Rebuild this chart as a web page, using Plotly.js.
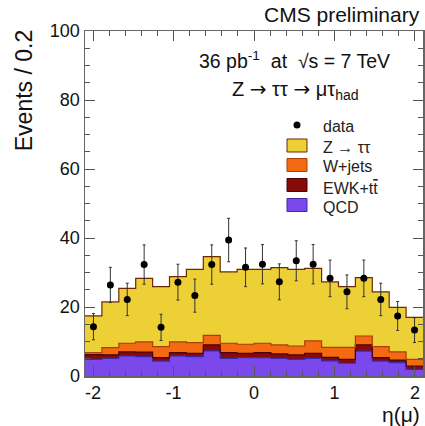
<!DOCTYPE html>
<html>
<head>
<meta charset="utf-8">
<script src="https://cdn.plot.ly/plotly-3.0.1.min.js"></script>
<style>html,body{margin:0;padding:0;background:#fff;}#chart{width:425px;height:426px;}</style>
</head>
<body>
<div id="chart"></div>
<script>
// bin centres of eta(mu), bin width 0.21
const etaCenters = [-1.995, -1.785, -1.575, -1.365, -1.155, -0.945, -0.735, -0.525, -0.315, -0.105,
                    0.105, 0.315, 0.525, 0.735, 0.945, 1.155, 1.365, 1.575, 1.785, 1.995];
const binWidth = 0.21;
const qcd   = [4.8, 5.1, 5.8, 5.6, 4.3, 5.8, 5.6, 7.3, 5.1, 5.3, 5.3, 5.1, 4.8, 5.1, 4.4, 3.7, 7.2, 4.3, 3.9, 1.9];
const ewk   = [1.4, 1.0, 1.2, 1.3, 1.0, 1.0, 1.0, 1.7, 1.7, 1.3, 1.5, 1.3, 1.3, 1.5, 1.0, 1.1, 1.8, 1.0, 0.7, 1.0];
const wjets = [0.6, 2.1, 2.5, 3.0, 3.2, 3.1, 3.1, 2.8, 2.7, 2.6, 2.7, 2.6, 2.6, 3.6, 2.9, 3.5, 2.6, 3.2, 2.4, 1.9];
const ztt   = [10.6, 13.3, 15.9, 18.4, 17.4, 18.9, 21.2, 22.8, 20.7, 21.7, 21.4, 22.4, 22.2, 21.0, 19.0, 17.6, 16.9, 15.9, 12.9, 12.2];
const dataVals = [14.3, 26.4, 22.2, 32.3, 14.1, 27.2, 23.3, 32.3, 39.4, 31.5, 32.4, 27.3, 33.4, 32.4, 28.3, 24.4, 28.3, 22.2, 17.4, 13.3];
const dataErr  = [3.8, 5.1, 4.7, 5.7, 3.8, 5.2, 4.8, 5.7, 6.3, 5.6, 5.7, 5.2, 5.8, 5.7, 5.3, 4.9, 5.3, 4.7, 4.2, 3.6];
const xTickVals = [-2, -1, 0, 1, 2];
const xTickText = ['-2', '-1', '0', '1', '2'];
const legendLabels = ['data', 'Z → ττ', 'W+jets', 'EWK+t<span style="text-decoration:overline">t</span>', 'QCD'];

const colors = {ztt: '#EDCF36', wjets: '#F46A12', ewk: '#870A0A', qcd: '#7B48EC'};
const edgeColors = {ztt: '#6B2A05', wjets: '#A8400A', ewk: '#4A0000', qcd: '#3A2AA8'};

// cumulative stack tops for outline step lines
const cum = [];
let run = etaCenters.map(() => 0);
[['qcd', qcd], ['ewk', ewk], ['wjets', wjets], ['ztt', ztt]].forEach(([k, arr]) => {
  run = run.map((v, i) => v + arr[i]);
  cum.push([k, run.slice()]);
});
const edgesX = etaCenters.map(c => c - binWidth / 2).concat([etaCenters[etaCenters.length - 1] + binWidth / 2]);

const traces = [];
function barTrace(name, arr, key) {
  return {type: 'bar', x: etaCenters, y: arr, width: binWidth, name: name,
          marker: {color: colors[key], line: {width: 0}}, hoverinfo: 'skip', showlegend: false};
}
traces.push(barTrace('QCD', qcd, 'qcd'));
traces.push(barTrace('EWK+tt', ewk, 'ewk'));
traces.push(barTrace('W+jets', wjets, 'wjets'));
traces.push(barTrace('Z → ττ', ztt, 'ztt'));
cum.forEach(([k, arr]) => {
  traces.push({type: 'scatter', mode: 'lines', x: edgesX, y: arr.concat([arr[arr.length - 1]]),
               line: {shape: 'hv', color: edgeColors[k], width: 1.2}, showlegend: false, hoverinfo: 'skip'});
});
traces.push({type: 'scatter', mode: 'markers', name: 'data', x: etaCenters, y: dataVals, showlegend: false,
             marker: {color: '#000', size: 7},
             error_y: {type: 'data', array: dataErr, visible: true, color: '#333', thickness: 1, width: 1.5}});

// manual legend (pixel layout -> paper coords)
const PL = 85, PW = 338, PB = 376, PH = 345;
const px = v => (v - PL) / PW, py = v => (PB - v) / PH;
const shapes = [];
const annotations = [];
const boxKeys = ['ztt', 'wjets', 'ewk', 'qcd'];
const boxY = [145.5, 165, 185, 205];
const textY = [126, 147, 166, 188, 207];
boxKeys.forEach((k, i) => {
  shapes.push({type: 'rect', xref: 'paper', yref: 'paper', x0: px(287), x1: px(307), y0: py(boxY[i] + 6.5), y1: py(boxY[i] - 6.5),
               fillcolor: colors[k], line: {color: edgeColors[k], width: 1}});
});
shapes.push({type: 'circle', xref: 'paper', yref: 'paper', x0: px(293.5), x1: px(300.5), y0: py(128.5), y1: py(121.5),
             fillcolor: '#000', line: {color: '#000', width: 0}});
legendLabels.forEach((t, i) => {
  annotations.push({text: t, xref: 'paper', yref: 'paper', x: px(321), y: py(textY[i]), xanchor: 'left', yanchor: 'middle',
                    showarrow: false, font: {size: 16, color: '#222'}});
});

annotations.push(
  {text: 'CMS preliminary', xref: 'paper', yref: 'paper', x: 0.997, y: 1.049, xanchor: 'right', yanchor: 'middle',
   showarrow: false, font: {size: 21}},
  {text: '36 pb<sup>-1</sup>  at  √s = 7 TeV', xref: 'paper', yref: 'paper', x: 0.62, y: 0.915, xanchor: 'center', yanchor: 'middle',
   showarrow: false, font: {size: 19.5}},
  {text: 'Z <span style="font-family:DejaVu Sans">→</span> ττ <span style="font-family:DejaVu Sans">→</span> μτ<sub>had</sub>', xref: 'paper', yref: 'paper', x: 0.624, y: 0.83, xanchor: 'center', yanchor: 'middle',
   showarrow: false, font: {size: 20}},
  {text: 'η(μ)', xref: 'paper', yref: 'paper', x: 0.997, y: -0.112, xanchor: 'right', yanchor: 'middle',
   showarrow: false, font: {size: 21}},
  {text: 'Events / 0.2', xref: 'paper', yref: 'paper', x: -0.178, y: 1.009, xanchor: 'center', yanchor: 'top',
   textangle: -90, showarrow: false, font: {size: 23}}
);

const layout = {
  width: 425, height: 426,
  margin: {l: 85, r: 2, t: 31, b: 50},
  paper_bgcolor: '#fff', plot_bgcolor: '#fff',
  barmode: 'stack', bargap: 0,
  font: {family: 'Liberation Sans, Arial, sans-serif', color: '#111'},
  showlegend: false,
  xaxis: {range: [-2.1, 2.1], tickvals: xTickVals, ticktext: xTickText, ticks: 'inside', ticklen: 10, tickwidth: 1,
          tickcolor: '#555', showline: true, linecolor: '#666', linewidth: 1.5, mirror: 'ticks',
          showgrid: false, zeroline: false, tickfont: {size: 18},
          minor: {dtick: 0.2, tick0: 0, ticklen: 5, tickcolor: '#555', ticks: 'inside', showgrid: false}},
  yaxis: {range: [0, 100], dtick: 20, tick0: 0, ticks: 'inside', ticklen: 10, tickwidth: 1,
          tickcolor: '#555', showline: true, linecolor: '#666', linewidth: 1.5, mirror: 'ticks',
          showgrid: false, zeroline: false, tickfont: {size: 18},
          minor: {dtick: 5, ticklen: 5, tickcolor: '#555', ticks: 'inside', showgrid: false}},
  shapes: shapes,
  annotations: annotations
};
Plotly.newPlot('chart', traces, layout, {staticPlot: true, displayModeBar: false});
</script>
</body>
</html>
